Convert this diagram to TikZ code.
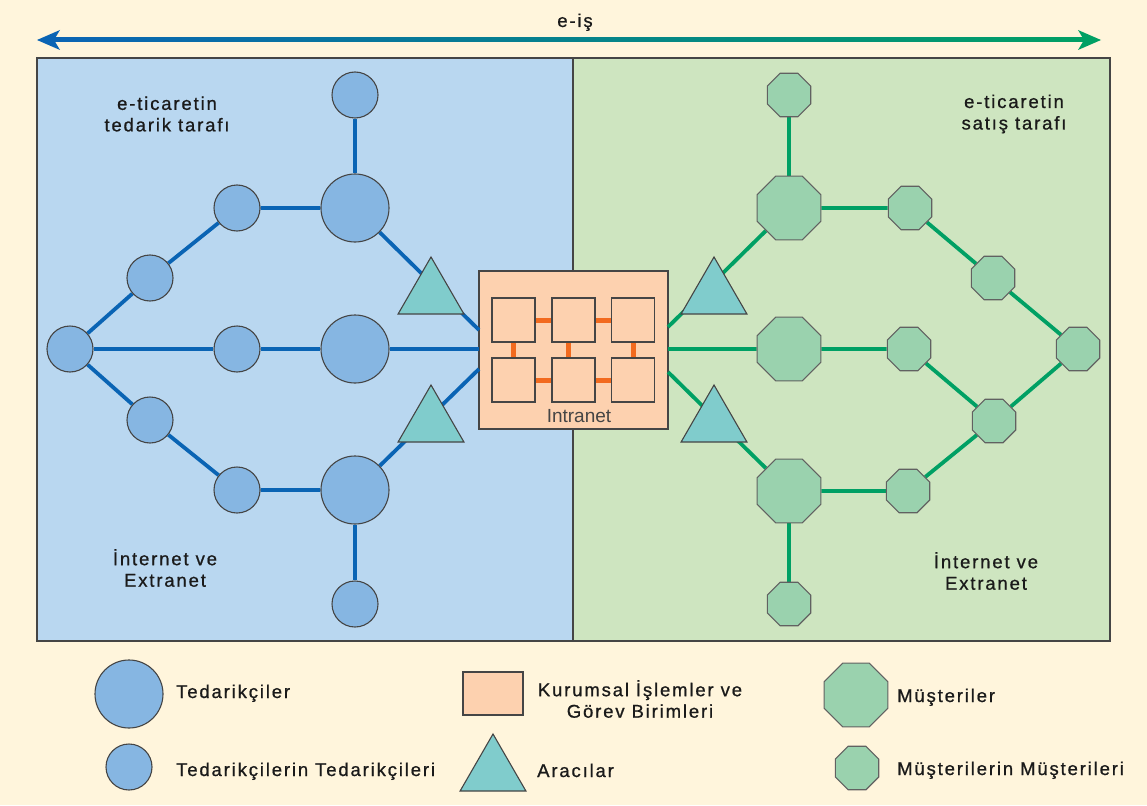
\documentclass[tikz,border=0pt]{standalone}
\usepackage{fontspec}
\setmainfont{Liberation Sans}
\newfontfamily\labfont{Liberation Sans}[LetterSpace=10,FakeBold=0.8]
\usetikzlibrary{shapes.geometric}
\definecolor{cream}{HTML}{FFF5DC}
\definecolor{leftbg}{HTML}{B9D7F0}
\definecolor{rightbg}{HTML}{CEE5C0}
\definecolor{supfill}{HTML}{86B6E2}
\definecolor{custfill}{HTML}{9AD2AE}
\definecolor{trifill}{HTML}{80CCCC}
\definecolor{boxfill}{HTML}{FDD1AF}
\definecolor{lineblue}{HTML}{0A64B4}
\definecolor{linegreen}{HTML}{00A064}
\definecolor{orangeln}{HTML}{F26A1F}
\definecolor{edgegray}{HTML}{454545}
\definecolor{txt}{HTML}{1A1A1A}
\pgfdeclarelayer{back}
\pgfdeclarelayer{lines}
\pgfsetlayers{back,lines,main}
\tikzset{
  bigsup/.style={circle, draw=edgegray, fill=supfill, line width=1.1pt, minimum size=68pt, inner sep=0pt},
  smallsup/.style={circle, draw=edgegray, fill=supfill, line width=1.1pt, minimum size=46pt, inner sep=0pt},
  bigcust/.style={regular polygon, regular polygon sides=8, draw=edgegray!85, fill=custfill, line width=1.1pt, minimum size=69pt, inner sep=0pt},
  smallcust/.style={regular polygon, regular polygon sides=8, draw=edgegray!85, fill=custfill, line width=1.1pt, minimum size=47pt, inner sep=0pt},
  midman/.style={regular polygon, regular polygon sides=3, draw=edgegray, fill=trifill, line width=1.1pt, minimum size=76pt, inner sep=0pt},
  deptbox/.style={rectangle, draw=edgegray, fill=boxfill, line width=1.1pt, minimum width=43pt, minimum height=44pt, inner sep=0pt},
  panel/.style={draw=edgegray, line width=1.2pt},
  blueln/.style={line width=3.8pt, draw=lineblue},
  greenln/.style={line width=3.8pt, draw=linegreen},
  orln/.style={line width=5pt, draw=orangeln},
  lab/.style={font=\labfont\fontsize{18.5}{21.5}\selectfont, text=txt, align=center, inner sep=0pt},
}
\begin{document}
\begin{tikzpicture}[x=1pt,y=-1pt]
\useasboundingbox (0,0) rectangle (1147,805);
\begin{pgfonlayer}{back}
  \fill[cream] (0,0) rectangle (1147,805);
  \draw[panel, fill=leftbg] (37,58) rectangle (573,641);
  \draw[panel, fill=rightbg] (573,58) rectangle (1110,641);
  \node[draw=edgegray, fill=boxfill, line width=1.2pt, minimum width=189pt, minimum height=158pt, inner sep=0pt] (intra) at (573.5,350) {};
\end{pgfonlayer}

% top arrow
\coordinate (arrL) at (37,40);
\coordinate (arrR) at (1101,40);
\shade[left color=lineblue, right color=linegreen] (52,38) rectangle (1087,42);
\fill[lineblue] (arrL) -- ++(23,-10) -- ++(-6,10) -- ++(6,10) -- cycle;
\fill[linegreen] (arrR) -- ++(-23,-10) -- ++(6,10) -- ++(-6,10) -- cycle;
\node[lab, anchor=base] (eis) at (575,27) {e-iş};

% box edge coordinates
\coordinate (iL1) at (479,330);
\coordinate (iL2) at (479,349);
\coordinate (iL3) at (479,369);
\coordinate (iR1) at (668,327);
\coordinate (iR2) at (668,349);
\coordinate (iR3) at (668,372);

% left nodes
\node[smallsup] (L0) at (355,95) {};
\node[bigsup] (L1) at (355,208) {};
\node[bigsup] (L2) at (355,349) {};
\node[bigsup] (L3) at (355,490) {};
\node[smallsup] (L4) at (355,604) {};
\node[smallsup] (a1) at (237,208) {};
\node[smallsup] (a2) at (150,278) {};
\node[smallsup] (a3) at (70,349) {};
\node[smallsup] (a4) at (237,349) {};
\node[smallsup] (a5) at (150,420) {};
\node[smallsup] (a6) at (237,490) {};
\node[midman] (t1) at (431,295) {};
\node[midman] (t2) at (431,423) {};

% right nodes
\node[smallcust] (R0) at (789,95) {};
\node[bigcust] (R1) at (789,208) {};
\node[bigcust] (R2) at (789,349) {};
\node[bigcust] (R3) at (789,491) {};
\node[smallcust] (R4) at (789,604) {};
\node[smallcust] (b1) at (910,208) {};
\node[smallcust] (b2) at (993,278) {};
\node[smallcust] (b3) at (1078,349) {};
\node[smallcust] (b4) at (909,349) {};
\node[smallcust] (b5) at (994,421) {};
\node[smallcust] (b6) at (908,491) {};
\node[midman] (t3) at (714,295) {};
\node[midman] (t4) at (714,423) {};

% intranet departments
\node[deptbox] (s11) at (513.5,320) {};
\node[deptbox] (s12) at (573.5,320) {};
\node[deptbox] (s13) at (633,320) {};
\node[deptbox] (s21) at (513.5,380) {};
\node[deptbox] (s22) at (573.5,380) {};
\node[deptbox] (s23) at (633,380) {};
\node[font=\fontsize{19}{22}\selectfont, text=edgegray, anchor=base, inner sep=0pt] (intralab) at (579,422) {Intranet};

\begin{pgfonlayer}{lines}
  \draw[blueln] (L0) -- (L1);
  \draw[blueln] (L1) -- (a1) -- (a2) -- (a3);
  \draw[blueln] (a3) -- (a4) -- (L2) -- (iL2);
  \draw[blueln] (a3) -- (a5) -- (a6) -- (L3);
  \draw[blueln] (L3) -- (L4);
  \draw[blueln] (L1) -- (iL1);
  \draw[blueln] (L3) -- (iL3);
  \draw[greenln] (R0) -- (R1);
  \draw[greenln] (R1) -- (b1) -- (b2) -- (b3);
  \draw[greenln] (iR2) -- (R2) -- (b4) -- (b5) -- (b3);
  \draw[greenln] (b5) -- (b6) -- (R3);
  \draw[greenln] (R3) -- (R4);
  \draw[greenln] (R1) -- (iR1);
  \draw[greenln] (R3) -- (iR3);
  \draw[orln] (s11) -- (s12);
  \draw[orln] (s12) -- (s13);
  \draw[orln] (s21) -- (s22);
  \draw[orln] (s22) -- (s23);
  \draw[orln] (s11) -- (s21);
  \draw[orln] ([xshift=-5pt]s12.south) -- ([xshift=-5pt]s22.north);
  \draw[orln] (s13) -- (s23);
\end{pgfonlayer}

% panel labels
\node[lab] (lt) at (167,114) {e-ticaretin\\tedarik tarafı};
\node[lab] (rt) at (1014,114) {e-ticaretin\\satış tarafı};
\node[lab] (lb) at (165,568) {İnternet ve\\Extranet};
\node[lab] (rb) at (986,571) {İnternet ve\\Extranet};

% legend
\node[bigsup] (g1) at (129,694) {};
\node[lab, anchor=base west] (g1t) at (176,698) {Tedarikçiler};
\node[smallsup] (g2) at (129,767) {};
\node[lab, anchor=base west] (g2t) at (176,776) {Tedarikçilerin Tedarikçileri};
\node[draw=edgegray, fill=boxfill, line width=1.1pt, minimum width=60pt, minimum height=43pt, inner sep=0pt] (g3) at (493,693.5) {};
\node[lab] (g3t) at (640,699) {Kurumsal İşlemler ve\\Görev Birimleri};
\node[midman] (g4) at (493,772) {};
\node[lab, anchor=base west] (g4t) at (537,777) {Aracılar};
\node[bigcust] (g5) at (856,695) {};
\node[lab, anchor=base west] (g5t) at (897,702) {Müşteriler};
\node[smallcust] (g6) at (857,768) {};
\node[lab, anchor=base west] (g6t) at (897,775) {Müşterilerin Müşterileri};
\end{tikzpicture}
\end{document}
